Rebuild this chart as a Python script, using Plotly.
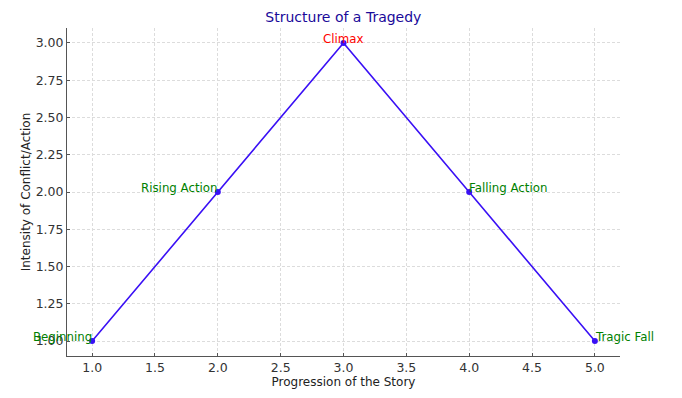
import plotly.graph_objects as go

stages = ["Beginning", "Rising Action", "Climax", "Falling Action", "Tragic Fall"]
progression = [1, 2, 3, 4, 5]
intensity = [1, 2, 3, 2, 1]
label_colors = ["green", "green", "red", "green", "green"]
label_xanchor = ["right", "right", "center", "left", "left"]
label_xshift = [2, 2, 0, -2, -2]

fig = go.Figure()
fig.add_trace(go.Scatter(
    x=progression, y=intensity, mode="lines+markers",
    line=dict(color="#3a10f5", width=1.6),
    marker=dict(color="#3a10f5", size=6),
    showlegend=False,
))

for xv, yv, s, c, xa, xs in zip(progression, intensity, stages, label_colors, label_xanchor, label_xshift):
    fig.add_annotation(x=xv, y=yv, text=s, showarrow=False,
                       xanchor=xa, yanchor="bottom", yshift=-5, xshift=xs,
                       font=dict(color=c, size=11.8, family="DejaVu Sans"))

axis_common = dict(
    showgrid=True, gridcolor="#dcdcdc", griddash="3px,2px", gridwidth=0.8,
    showline=True, linecolor="#555555", linewidth=1,
    ticks="inside", ticklen=3, tickcolor="#555555",
    tickfont=dict(size=12.5, color="#333333", family="DejaVu Sans"),
    zeroline=False, mirror=False, automargin=False,
)

fig.update_layout(
    width=682, height=398,
    margin=dict(l=67, r=62, t=28, b=42),
    paper_bgcolor="white", plot_bgcolor="white",
    font=dict(family="DejaVu Sans", color="#333333"),
    title=dict(text="Structure of a Tragedy", x=0.5035, xanchor="center",
               y=0.957, yanchor="middle",
               font=dict(size=14, color="#1a0a9a", family="DejaVu Sans")),
    xaxis=dict(range=[0.8, 5.2], dtick=0.5, tick0=1, tickformat=".1f",
               title=dict(text="Progression of the Story", standoff=3,
                          font=dict(size=12, color="#222222")),
               **axis_common),
    yaxis=dict(range=[0.9, 3.1], dtick=0.25, tick0=1, tickformat=".2f",
               title=dict(text="Intensity of Conflict/Action", standoff=2,
                          font=dict(size=12, color="#222222")),
               **axis_common),
)

fig.write_html("out.html")
